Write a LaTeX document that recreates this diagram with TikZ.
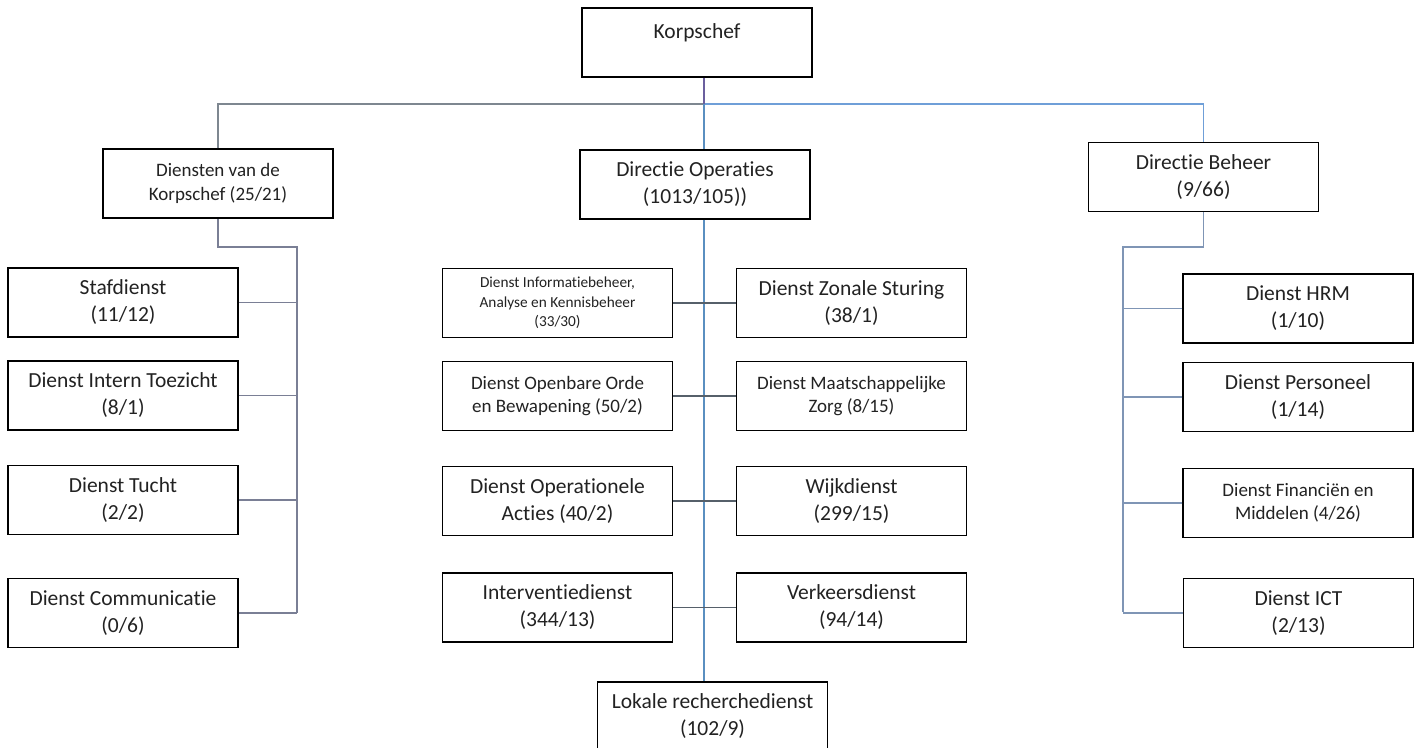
\documentclass[tikz,border=0pt]{standalone}
\usepackage{fontspec}
\setmainfont{Carlito}[Ligatures=NoCommon]
\definecolor{txt}{HTML}{222222}
\definecolor{busgray}{HTML}{7E8790}
\definecolor{busblue}{HTML}{6F9FD8}
\definecolor{kviolet}{HTML}{6B5F9E}
\definecolor{opblue}{HTML}{5A8FC0}
\definecolor{midgray}{HTML}{56606A}
\definecolor{lgray}{HTML}{7A7F95}
\definecolor{rblue}{HTML}{7F95B5}
\tikzset{
  box/.style={draw=black, line width=1.5pt, fill=white, minimum width=230pt, minimum height=69pt, inner sep=2pt, align=center, text=txt},
  fbig/.style={font=\fontsize{21.5}{27}\selectfont},
  fmid/.style={font=\fontsize{19}{23.5}\selectfont},
  fsmall/.style={font=\fontsize{15.3}{19.5}\selectfont},
  conn/.style={line width=1.1pt},
}
\begin{document}
\begin{tikzpicture}[x=1pt,y=-1pt]
\useasboundingbox[fill=white] (0,0) rectangle (1419,747);
% top level
\node[box, label={[anchor=north, yshift=-13pt, fbig, text=txt]north:Korpschef}] (korps) at (697,42.5) {};
\node[box, fmid] (dk) at (218,183.5) {Diensten van de\\Korpschef (25/21)};
\node[box, fbig] (ops) at (695,184.5) {Directie Operaties\\(1013/105))};
\node[box, fbig] (db) at (1203.5,177) {Directie Beheer\\(9/66)};
% left column
\node[box, fbig] (staf) at (123,302.5) {Stafdienst\\(11/12)};
\node[box, fbig] (dit) at (123,395.5) {Dienst Intern Toezicht\\(8/1)};
\node[box, fbig] (tucht) at (123,500) {Dienst Tucht\\(2/2)};
\node[box, fbig] (comm) at (123,613) {Dienst Communicatie\\(0/6)};
% middle
\node[box, fsmall] (info) at (557.5,303) {Dienst Informatiebeheer,\\Analyse en Kennisbeheer\\(33/30)};
\node[box, fbig] (zonal) at (851.5,303) {Dienst Zonale Sturing\\(38/1)};
\node[box, fmid] (oo) at (557.5,396) {Dienst Openbare Orde\\en Bewapening (50/2)};
\node[box, fmid] (mz) at (851.5,396) {Dienst Maatschappelijke\\Zorg (8/15)};
\node[box, fbig] (opact) at (557.5,501) {Dienst Operationele\\Acties (40/2)};
\node[box, fbig] (wijk) at (851.5,501) {Wijkdienst\\(299/15)};
\node[box, fbig] (interv) at (557.5,607.5) {Interventiedienst\\(344/13)};
\node[box, fbig] (verk) at (851.5,607.5) {Verkeersdienst\\(94/14)};
\node[box, fbig] (lok) at (712.5,716.5) {Lokale recherchedienst\\(102/9)};
% right column
\node[box, fbig] (hrm) at (1298,308.5) {Dienst HRM\\(1/10)};
\node[box, fbig] (pers) at (1298,397) {Dienst Personeel\\(1/14)};
\node[box, fmid] (fin) at (1298,503) {Dienst Financiën en\\Middelen (4/26)};
\node[box, fbig] (ict) at (1298.5,613) {Dienst ICT\\(2/13)};
% coordinates
\coordinate (busM) at (704,104);
\coordinate (lt) at (297,247);
\coordinate (lb) at (297,613);
\coordinate (rt) at (1123,247);
\coordinate (rb) at (1123,612);
% bus
\draw[conn, busgray] (dk.north) |- (busM);
\draw[conn, busblue] (busM) -| (db.north);
\draw[conn, kviolet] (korps.south -| busM) -- (busM);
\draw[conn, opblue] (busM) -- (ops.north -| busM);
\draw[conn, opblue] (ops.south -| busM) -- (lok.north -| busM);
% left column
\draw[conn, lgray] (dk.south) |- (lt) -- (lb);
\foreach \n in {staf,dit,tucht,comm} \draw[conn, lgray] (\n.east) -- (\n.east -| lt);
% middle
\foreach \a/\b in {info/zonal, oo/mz, opact/wijk, interv/verk} \draw[conn, midgray] (\a.east) -- (\b.west);
% right column
\draw[conn, rblue] (db.south) |- (rt) -- (rb);
\foreach \n in {hrm,pers,fin,ict} \draw[conn, rblue] (\n.west) -- (\n.west -| rt);
\end{tikzpicture}
\end{document}
